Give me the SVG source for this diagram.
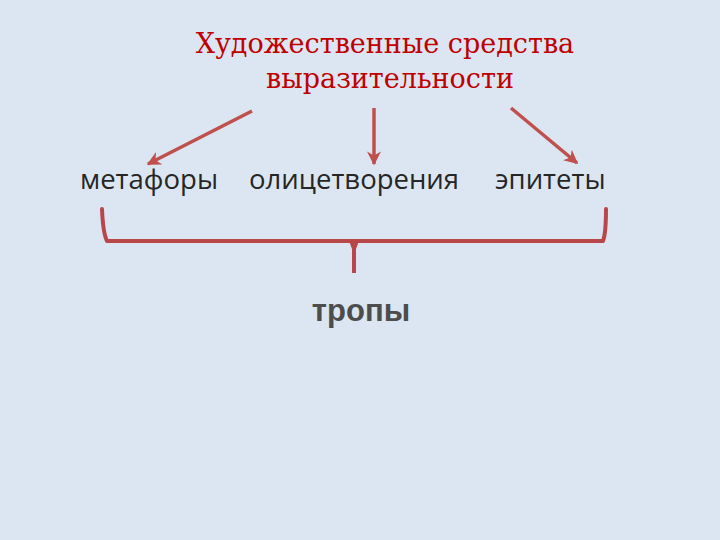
<svg xmlns="http://www.w3.org/2000/svg" width="720" height="540" viewBox="0 0 720 540">
<defs>
<style>
.title{font-family:"DejaVu Serif","Liberation Serif",serif;font-size:27px;fill:#c00000;text-anchor:middle}
.node{font-family:"Open Sans","Noto Sans",sans-serif;font-size:27.5px;fill:#262626}
.res{font-family:"Liberation Sans",Arial,sans-serif;font-size:31px;font-weight:bold;fill:#4d4d4d;text-anchor:middle}
.arr{stroke:#c0504d;stroke-width:3.5;fill:none;marker-end:url(#ah)}
.br{stroke:#b8474a;stroke-width:4;fill:none;stroke-linecap:round;stroke-linejoin:round}
</style>
<marker id="ah" viewBox="0 0 10 10" refX="9" refY="5" markerWidth="4" markerHeight="4" orient="auto" markerUnits="strokeWidth">
<path d="M0,0 L10,5 L0,10 L3,5 Z" fill="#c0504d"/>
</marker>
</defs>
<rect width="720" height="540" fill="#dce6f2"/>
<g id="title">
<text class="title" x="385" y="53">Художественные средства</text>
<text class="title" x="390" y="88">выразительности</text>
</g>
<g id="metafory"><text class="node" x="80" y="189">метафоры</text></g>
<g id="olicetvoreniya"><text class="node" x="249" y="189">олицетворения</text></g>
<g id="epitety"><text class="node" x="495" y="189">эпитеты</text></g>
<g id="tropy"><text class="res" x="361" y="321">тропы</text></g>
<g id="connectors">
<line class="arr" x1="252" y1="111" x2="148" y2="164"/>
<line class="arr" x1="374" y1="108" x2="374" y2="164"/>
<line class="arr" x1="511" y1="108" x2="577" y2="163"/>
<path class="br" d="M102,209 Q103,233 107,241 L603,241 Q606,233 606,209"/>
<path d="M349,241 L359,241 L356,249 L356,273 L352,273 L352,249 Z" fill="#b8474a"/>
</g>
</svg>
